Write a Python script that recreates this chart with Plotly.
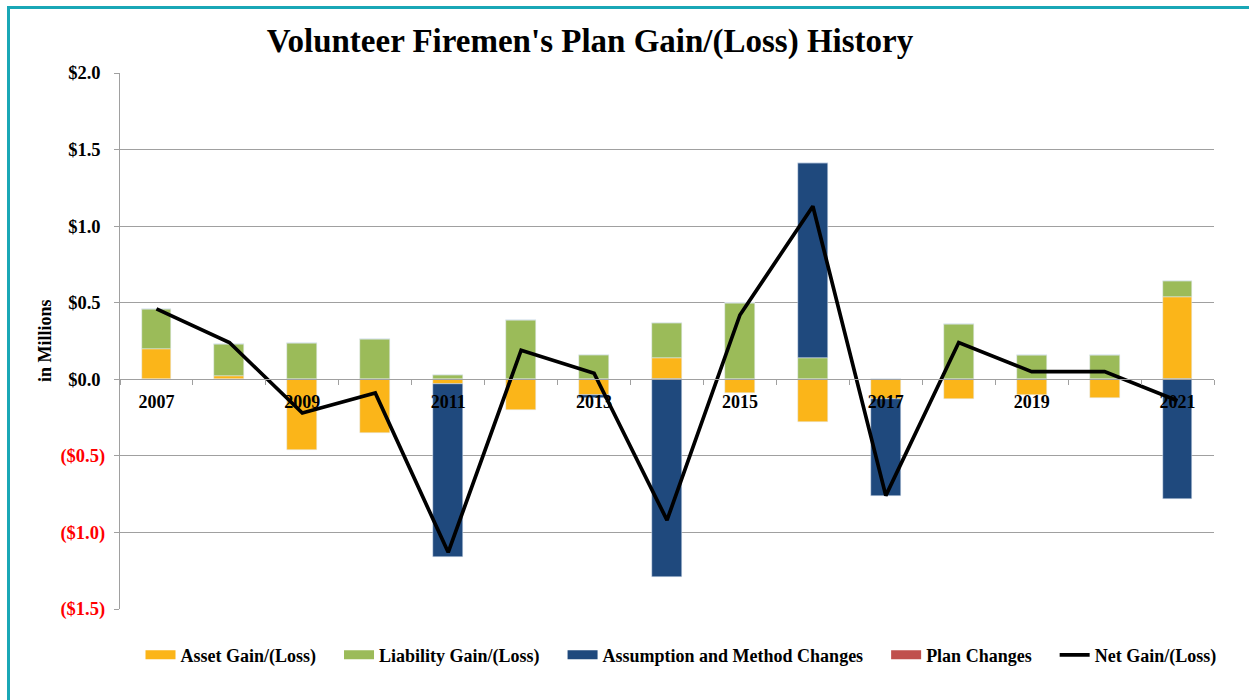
import plotly.graph_objects as go

years = list(range(2007, 2022))
asset = [0.20, 0.02, -0.46, -0.35, -0.03, -0.20, -0.10, 0.14, -0.09, -0.28, -0.13, -0.13, -0.10, -0.12, 0.54]
liability = [0.26, 0.21, 0.24, 0.26, 0.03, 0.39, 0.16, 0.23, 0.50, 0.14, 0.00, 0.36, 0.16, 0.16, 0.10]
assumption = [0.0, 0.0, 0.0, 0.0, -1.13, 0.0, -0.02, -1.29, 0.0, 1.27, -0.63, 0.0, 0.0, 0.0, -0.78]
plan = [0.0] * 15
net = [0.46, 0.24, -0.22, -0.09, -1.13, 0.19, 0.04, -0.92, 0.42, 1.13, -0.76, 0.24, 0.05, 0.05, -0.14]

ytick_vals = [-1.5, -1.0, -0.5, 0.0, 0.5, 1.0, 1.5, 2.0]
ytick_text = ["($1.5)", "($1.0)", "($0.5)", "$0.0", "$0.5", "$1.0", "$1.5", "$2.0"]
xtick_vals = [2007, 2009, 2011, 2013, 2015, 2017, 2019, 2021]

FONT = "Liberation Serif, Times New Roman, serif"
PAD = "&nbsp;&nbsp;&nbsp;&nbsp;"

bar_series = [
    ("Asset Gain/(Loss)", asset, "#FBB519"),
    ("Liability Gain/(Loss)", liability, "#9BBB59"),
    ("Assumption and Method Changes", assumption, "#1F497D"),
    ("Plan Changes", plan, "#C0504D"),
]


def fmt_tick(v, t):
    if v < 0:
        return f'<span style="color:#FF0000">{t}</span>'
    return t + "&nbsp;"


fig = go.Figure()
bw = 0.41
for i, (name, vals, col) in enumerate(bar_series):
    fig.add_trace(go.Bar(x=years, y=vals, name=name, marker_color=col, width=bw,
                         showlegend=False, legendgroup=f"g{i}"))
    # wide flat legend swatch, linked to the bars above
    fig.add_trace(go.Scatter(x=[None], y=[None], mode="lines", name=f"<b>{name}</b>{PAD}",
                             line=dict(color=col, width=9), legendgroup=f"g{i}",
                             hoverinfo="skip"))
fig.add_trace(go.Scatter(x=years, y=net, name="<b>Net Gain/(Loss)</b>", mode="lines",
                         line=dict(color="black", width=3.7)))

fig.update_layout(
    width=1249, height=700,
    barmode="relative",
    bargap=0,
    plot_bgcolor="white", paper_bgcolor="white",
    margin=dict(l=120, r=35, t=73, b=91),
    font=dict(family=FONT, color="black"),
    title=dict(text="<b>Volunteer Firemen's Plan Gain/(Loss) History</b>",
               font=dict(family=FONT, size=33, color="black"),
               x=0.4296, xanchor="center", xref="paper",
               y=1 - 40 / 700, yanchor="middle"),
    legend=dict(orientation="h", x=(681 - 120) / 1094, xanchor="center",
                y=-0.086, yanchor="middle",
                font=dict(family=FONT, size=18, color="black"),
                traceorder="normal"),
    showlegend=True,
)

fig.update_yaxes(
    range=[-1.5, 2.0],
    tickvals=ytick_vals,
    ticktext=[f"<b>{fmt_tick(v, t)}</b>" for v, t in zip(ytick_vals, ytick_text)],
    tickfont=dict(family=FONT, size=18.5, color="black"),
    showgrid=True, gridcolor="#A0A0A0", gridwidth=1.3,
    showline=True, linecolor="#A0A0A0", linewidth=1.3,
    ticks="outside", ticklen=5, tickcolor="#A0A0A0",
    ticklabelstandoff=5,
    zeroline=False,
)

fig.update_xaxes(
    range=[2006.5, 2021.5],
    anchor="free", position=1.5 / 3.5,
    tickvals=xtick_vals,
    ticktext=[f"<b>{y}</b>" for y in xtick_vals],
    tickfont=dict(family=FONT, size=18, color="black"),
    ticks="outside", ticklen=6, tickcolor="rgba(0,0,0,0)",
    showline=True, linecolor="#A0A0A0", linewidth=1.3,
    showgrid=False, zeroline=False,
    minor=dict(ticks="outside", tickmode="linear", tick0=2006.5, dtick=1,
               ticklen=5, tickcolor="#A0A0A0", tickwidth=1.3, showgrid=False),
)

fig.add_annotation(text="<b>in Millions</b>", textangle=-90,
                   xref="paper", yref="paper", x=(45 - 120) / 1094, y=0.5,
                   xanchor="center", yanchor="middle", showarrow=False,
                   font=dict(family=FONT, size=18, color="black"))

fig.add_shape(type="rect", xref="paper", yref="paper",
              x0=(8.5 - 120) / 1094, x1=(1265 - 120) / 1094,
              y0=(609 - 715) / 536, y1=(609 - 7.5) / 536,
              line=dict(color="#19A7B6", width=3), fillcolor="rgba(0,0,0,0)", layer="below")

fig.write_html("out.html", config={"displayModeBar": False},
               post_script="document.body.style.margin='0';")
